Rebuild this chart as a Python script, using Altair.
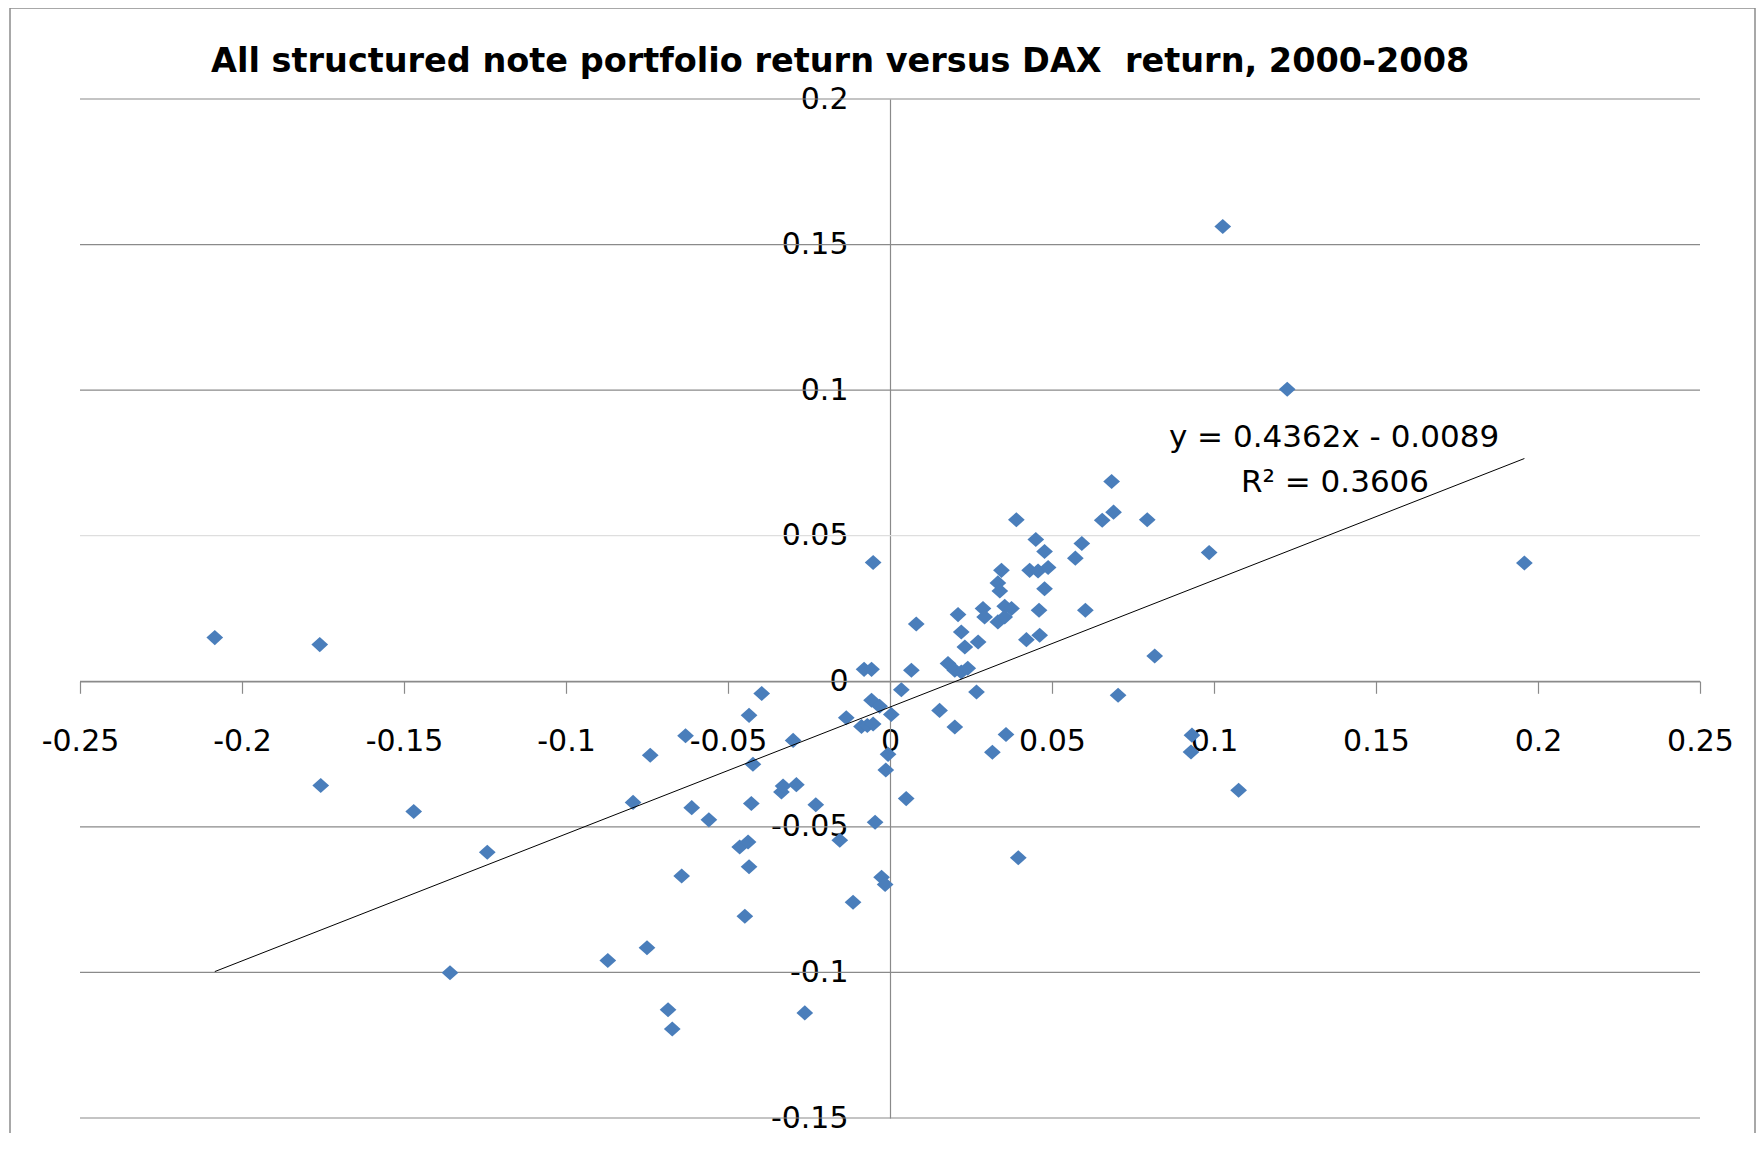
import altair as alt
import pandas as pd

# ---- data ----
dax_return = [
    -0.2084, -0.1760, -0.1757, -0.1470, -0.1358, -0.1243, -0.0871, -0.0793, -0.0750, -0.0740,
    -0.0685, -0.0672, -0.0643, -0.0631, -0.0612, -0.0559, -0.0464, -0.0448, -0.0438, -0.0435,
    -0.0435, -0.0428, -0.0423, -0.0396, -0.0335, -0.0330, -0.0299, -0.0289, -0.0263, -0.0229,
    -0.0155, -0.0135, -0.0114, -0.0088, -0.0080, -0.0070, -0.0057, -0.0057, -0.0052, -0.0052,
    -0.0046, -0.0032, -0.0026, -0.0015, -0.0013, -0.0006, 0.0004, 0.0035, 0.0050, 0.0066,
    0.0081, 0.0153, 0.0179, 0.0200, 0.0200, 0.0210, 0.0220, 0.0220, 0.0231, 0.0240,
    0.0267, 0.0272, 0.0287, 0.0292, 0.0316, 0.0333, 0.0333, 0.0339, 0.0344, 0.0354,
    0.0354, 0.0358, 0.0375, 0.0390, 0.0396, 0.0421, 0.0431, 0.0450, 0.0457, 0.0460,
    0.0462, 0.0477, 0.0477, 0.0488, 0.0572, 0.0592, 0.0603, 0.0655, 0.0684, 0.0690,
    0.0704, 0.0794, 0.0817, 0.0929, 0.0932, 0.0985, 0.1027, 0.1076, 0.1226, 0.1958,
]
portfolio_return = [
    0.0150, 0.0126, -0.0358, -0.0447, -0.1001, -0.0587, -0.0959, -0.0416, -0.0915, -0.0254,
    -0.1128, -0.1194, -0.0669, -0.0187, -0.0434, -0.0476, -0.0569, -0.0807, -0.0552, -0.0117,
    -0.0637, -0.0420, -0.0285, -0.0042, -0.0380, -0.0360, -0.0203, -0.0355, -0.1139, -0.0424,
    -0.0546, -0.0125, -0.0759, -0.0155, 0.0041, -0.0152, 0.0041, -0.0065, 0.0408, -0.0147,
    -0.0484, -0.0086, -0.0673, -0.0698, -0.0305, -0.0251, -0.0114, -0.0029, -0.0403, 0.0038,
    0.0197, -0.0100, 0.0061, 0.0038, -0.0157, 0.0229, 0.0032, 0.0169, 0.0118, 0.0045,
    -0.0037, 0.0135, 0.0250, 0.0221, -0.0244, 0.0204, 0.0338, 0.0310, 0.0381, 0.0258,
    0.0221, -0.0183, 0.0250, 0.0555, -0.0606, 0.0143, 0.0381, 0.0487, 0.0379, 0.0244,
    0.0158, 0.0446, 0.0318, 0.0391, 0.0423, 0.0473, 0.0244, 0.0553, 0.0686, 0.0581,
    -0.0048, 0.0555, 0.0087, -0.0243, -0.0185, 0.0442, 0.1562, -0.0374, 0.1003, 0.0406,
]
x_ticks = [-0.25, -0.2, -0.15, -0.1, -0.05, 0, 0.05, 0.1, 0.15, 0.2, 0.25]
y_ticks = [0.2, 0.15, 0.1, 0.05, 0, -0.05, -0.1, -0.15]
title_text = "All structured note portfolio return versus DAX \u00a0return, 2000-2008"
equation_lines = ["y = 0.4362x - 0.0089", "R\u00b2 = 0.3606"]

# ---- layout ----
W, H = 1620, 1019
x_dom = [-0.25, 0.25]
y_dom = [-0.15, 0.2]
x0px = W * (0 - x_dom[0]) / (x_dom[1] - x_dom[0])
y0px = H * (y_dom[1] - 0) / (y_dom[1] - y_dom[0])

FONT = "DejaVu Sans"
GRID = "#8a8a8a"
BLUE = "#4a7ebb"

df = pd.DataFrame({"dax": dax_return, "portfolio": portfolio_return})
xs = alt.Scale(domain=x_dom, nice=False, zero=False)
ys = alt.Scale(domain=y_dom, nice=False, zero=False)

x_axis = alt.Axis(
    values=x_ticks, title=None, orient="bottom", offset=-(H - y0px),
    domain=True, domainColor=GRID, domainWidth=1.2,
    ticks=True, tickSize=12, tickColor=GRID, tickWidth=1.2,
    labelExpr="toString(datum.value)", labelFont=FONT, labelFontSize=30,
    labelColor="#000000", labelPadding=33, labelFlush=False, labelOverlap=False,
    grid=False,
)
y_axis = alt.Axis(
    values=y_ticks, title=None, orient="left", offset=-x0px,
    domain=True, domainColor=GRID, domainWidth=1.2,
    ticks=False, tickSize=0,
    labelExpr="toString(datum.value)", labelFont=FONT, labelFontSize=30,
    labelColor="#000000", labelPadding=42, labelFlush=False, labelOverlap=False,
    labelBaseline="middle", grid=False,
)

border = alt.Chart(pd.DataFrame({"a": [0]})).mark_rect(
    fillOpacity=0, stroke="#8c8c8c", strokeWidth=1.5
).encode(x=alt.value(-70), x2=alt.value(1675), y=alt.value(-91), y2=alt.value(1200))

grid = alt.Chart(pd.DataFrame({"g": y_ticks})).mark_rule(strokeWidth=1.2).encode(
    y=alt.Y("g:Q", scale=ys, axis=y_axis),
    color=alt.condition("datum.g == 0.05", alt.value("#dedede"), alt.value(GRID)),
)

points = alt.Chart(df).mark_point(
    shape="M-1,0L0,-0.9L1,0L0,0.9Z", filled=True, size=280, color=BLUE, opacity=1
).encode(
    x=alt.X("dax:Q", scale=xs, axis=x_axis),
    y=alt.Y("portfolio:Q", scale=ys, axis=y_axis),
)

trend = alt.Chart(df).transform_regression("dax", "portfolio").mark_line(
    color="#000000", strokeWidth=1
).encode(
    x=alt.X("dax:Q", scale=xs, axis=x_axis),
    y=alt.Y("portfolio:Q", scale=ys, axis=y_axis),
)

eq1 = alt.Chart(pd.DataFrame({"a": [0]})).mark_text(
    text=equation_lines[0], font=FONT, fontSize=31, color="#000000",
    align="center", baseline="middle"
).encode(x=alt.value(1254), y=alt.value(339))
eq2 = alt.Chart(pd.DataFrame({"a": [0]})).mark_text(
    text=equation_lines[1], font=FONT, fontSize=31, color="#000000",
    align="center", baseline="middle"
).encode(x=alt.value(1255), y=alt.value(384))

title = alt.Chart(pd.DataFrame({"a": [0]})).mark_text(
    text=title_text, font=FONT, fontSize=33.5, fontWeight="bold", color="#000000",
    align="left", baseline="middle"
).encode(x=alt.value(131), y=alt.value(-37))

chart = alt.layer(border, grid, points, trend, eq1, eq2, title).properties(
    width=W, height=H,
    autosize=alt.AutoSizeParams(type="none"),
    padding={"left": 72, "top": 91, "right": 56, "bottom": 15},
).configure_view(stroke=None)

chart.save("out.html", embed_options={"renderer": "svg", "actions": False})
